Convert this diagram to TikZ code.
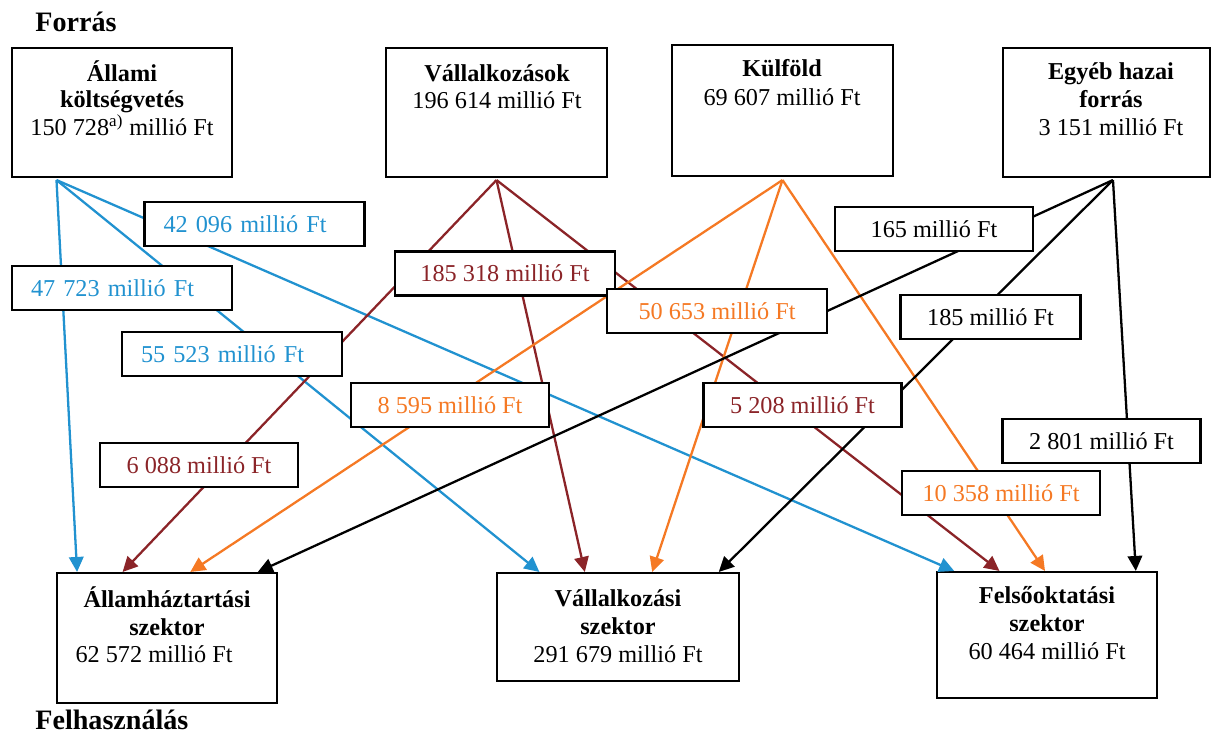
\documentclass[tikz,border=0pt]{standalone}
\usepackage{fontspec}
\setmainfont{Liberation Serif}
\usetikzlibrary{arrows.meta,calc}

\definecolor{ksblue}{RGB}{33,146,208}
\definecolor{ksred}{RGB}{139,36,40}
\definecolor{ksorange}{RGB}{245,121,36}
\newcommand\sz{\fontsize{13.8}{16}\selectfont}

\begin{document}
\begin{tikzpicture}[x=0.02cm,y=-0.02cm,
  box/.style={draw,line width=1.2pt,inner sep=0pt},
  lbl/.style={draw,fill=white,line width=1.2pt,font=\sz,minimum height=0.88cm,inner sep=0pt},
  lblc/.style={lbl,minimum width=3.96cm},
  lbll/.style={lbl,text width=3.64cm,align=left,inner xsep=0.38cm,text=ksblue},
  ln/.style={line width=1.3pt,-{Triangle[length=0.3cm,width=0.29cm]}},
  t/.style={anchor=base,inner sep=0pt,font=\sz},
  tb/.style={anchor=base,inner sep=0pt,font=\sz\bfseries}]
\useasboundingbox (0,0) rectangle (1218,740);

\node[anchor=base west,inner sep=0pt,font=\fontsize{16}{18}\selectfont\bfseries] (forras) at (35,32) {Forrás};
\node[anchor=base west,inner sep=0pt,font=\fontsize{16}{18}\selectfont\bfseries] (felh) at (35,729) {Felhasználás};

% forrasok
\node[box,minimum width=4.4cm,minimum height=2.58cm] (allami) at (122,112.5) {};
\node[box,minimum width=4.42cm,minimum height=2.58cm] (vallalk) at (496.5,112.5) {};
\node[box,minimum width=4.42cm,minimum height=2.62cm] (kulfold) at (782.5,110.5) {};
\node[box,minimum width=4.14cm,minimum height=2.58cm] (egyeb) at (1106.5,112.5) {};

\node[tb] (allami-1) at (122,82) {Állami};
\node[tb] (allami-2) at (122,108) {költségvetés};
\node[t] (allami-3) at (122,136) {150 728\textsuperscript{a)} millió Ft};
\node[tb] (vallalk-1) at (497,82) {Vállalkozások};
\node[t] (vallalk-2) at (497,109) {196 614 millió Ft};
\node[tb] (kulfold-1) at (782,77) {Külföld};
\node[t] (kulfold-2) at (782,106) {69 607 millió Ft};
\node[tb] (egyeb-1) at (1111,80) {Egyéb hazai};
\node[tb] (egyeb-2) at (1111,108) {forrás};
\node[t] (egyeb-3) at (1111,135) {3 151 millió Ft};

% felhasznalok
\node[box,minimum width=4.4cm,minimum height=2.6cm] (ah) at (167,638) {};
\node[box,minimum width=4.84cm,minimum height=2.16cm] (va) at (618,627) {};
\node[box,minimum width=4.4cm,minimum height=2.52cm] (fo) at (1047,635) {};

\node[tb] (ah-1) at (167,607) {Államháztartási};
\node[tb] (ah-2) at (167,635) {szektor};
\node[t] (ah-3) at (154,662) {62 572 millió Ft};
\node[tb] (va-1) at (618,606) {Vállalkozási};
\node[tb] (va-2) at (618,634) {szektor};
\node[t] (va-3) at (618,662) {291 679 millió Ft};
\node[tb] (fo-1) at (1047,603) {Felsőoktatási};
\node[tb] (fo-2) at (1047,631) {szektor};
\node[t] (fo-3) at (1047,659) {60 464 millió Ft};

\coordinate (allami-o) at ($(allami.south west)!0.205!(allami.south east)+(0,2)$);
\coordinate (vallalk-o) at ($(vallalk.south)+(0,2)$);
\coordinate (kulfold-o) at ($(kulfold.south)+(0,3)$);
\coordinate (egyeb-o) at ($(egyeb.south west)!0.531!(egyeb.south east)+(0,2)$);

\foreach \a/\b in {ah/0.095,va/0.178,fo/0.082}
  \draw[ln,ksblue] (allami-o) -- ($(\a.north west)!\b!(\a.north east)$);
\foreach \a/\b in {ah/0.30,va/0.364,fo/0.286}
  \draw[ln,ksred] (vallalk-o) -- ($(\a.north west)!\b!(\a.north east)$);
\foreach \a/\b in {ah/0.605,va/0.64,fo/0.491}
  \draw[ln,ksorange] (kulfold-o) -- ($(\a.north west)!\b!(\a.north east)$);
\foreach \a/\b in {ah/0.909,va/0.913,fo/0.90}
  \draw[ln,black] (egyeb-o) -- ($(\a.north west)!\b!(\a.north east)$);

% osszegek
\node[lbll] (l42096) at (254.5,224) {42 096 millió Ft};
\node[lbll] (l47723) at (122,288) {47 723 millió Ft};
\node[lbll] (l55523) at (232,354) {55 523 millió Ft};
\node[lblc,minimum width=4.4cm,text=ksred] (l185318) at (505,273.5) {185 318 millió Ft};
\node[lblc,minimum width=4.4cm,text=ksorange] (l50653) at (717,311) {50 653 millió Ft};
\node[lblc] (l165) at (934,229) {165 millió Ft};
\node[lblc,minimum width=3.6cm] (l185) at (990.5,317) {185 millió Ft};
\node[lblc,text=ksorange] (l8595) at (450,405) {8 595 millió Ft};
\node[lblc,text=ksred] (l5208) at (802.5,405) {5 208 millió Ft};
\node[lblc,text=ksred] (l6088) at (199,465) {6 088 millió Ft};
\node[lblc] (l2801) at (1101.5,441) {2 801 millió Ft};
\node[lblc,text=ksorange] (l10358) at (1001,493) {10 358 millió Ft};
\end{tikzpicture}
\end{document}
